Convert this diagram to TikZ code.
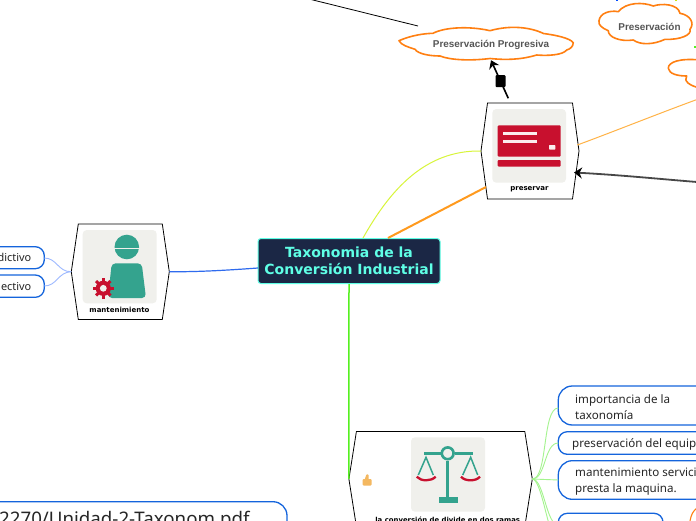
\documentclass[tikz,border=0pt]{standalone}
\usepackage{fontspec}
\usetikzlibrary{arrows.meta,calc}
\setmainfont{Noto Sans}
\newfontfamily\boldface{DejaVu Sans}[BoldFont=DejaVu Sans Bold]
\newfontfamily\cloudface{Liberation Sans}
\definecolor{inkmain}{HTML}{1B2745}
\definecolor{cyanmain}{HTML}{5FFFE6}
\definecolor{tealicon}{HTML}{34A38E}
\definecolor{redicon}{HTML}{C8102E}
\definecolor{panelgray}{HTML}{F0F0EC}
\definecolor{leafblue}{HTML}{1464DC}
\definecolor{cloudorange}{HTML}{FF7F11}
\definecolor{cloudtext}{HTML}{555555}
\definecolor{stemgreen}{HTML}{55F020}
\definecolor{softgreen}{HTML}{A4F48E}
\definecolor{softblue}{HTML}{9DB9FF}
\definecolor{limelink}{HTML}{D8F53A}
\definecolor{orangelink}{HTML}{FF9A1E}
\definecolor{orangethin}{HTML}{FFB347}
\definecolor{bluelink}{HTML}{2F6BEE}
\definecolor{thumbcolor}{HTML}{F4B860}
\tikzset{
  hexspan/.style={inner sep=0pt,outer sep=0pt,minimum width=#1},
  hexline/.style={draw=black,line width=0.8pt,fill=white,line join=miter},
  panel/.style={fill=panelgray,rounded corners=4pt},
  hexlabel/.style={font=\boldface\bfseries\fontsize{7}{9}\selectfont,inner sep=0pt},
  leaf/.style={draw=leafblue,line width=1.3pt,fill=white},
  leaftext/.style={font=\fontsize{11.6}{16}\selectfont,inner sep=0pt,align=left,text=black!85},
  cloudline/.style={draw=cloudorange,line width=1.6pt,fill=white,line join=round},
  cloudlabel/.style={font=\cloudface\bfseries\fontsize{9.9}{12}\selectfont,text=cloudtext,inner sep=0pt},
  softgreenlink/.style={draw=softgreen,line width=0.9pt},
  softbluelink/.style={draw=softblue,line width=0.9pt},
  icontooth/.style={fill=redicon,minimum width=3.4pt,minimum height=3pt,inner sep=0pt}
}
\newcommand{\hexa}[6]{% name cx cy width height inset
  \node[hexspan=#4pt,minimum height=#5pt] (#1) at (#2,#3) {};
  \draw[hexline] ($(#1.north west)+(#6pt,0)$) -- ($(#1.north east)+(-#6pt,0)$) -- (#1.east)
     -- ($(#1.south east)+(-#6pt,0)$) -- ($(#1.south west)+(#6pt,0)$) -- (#1.west) -- cycle;
}
\begin{document}
\begin{tikzpicture}[x=1pt,y=-1pt]
\useasboundingbox (0,0) rectangle (696,520);
\clip (0,0) rectangle (696,520);
\fill[white] (0,0) rectangle (696,520);

% connector free ends
\coordinate (topline a) at (309,-1);
\coordinate (topline b) at (418,26);
\coordinate (rightA) at (697,99.5);
\coordinate (rightB) at (697,182);
\coordinate (arrowIn) at (574,172.5);
\coordinate (arrowOut) at (508.3,98.3);
\coordinate (orangeIn) at (486,187);
\coordinate (rootYellow) at (363,238);
\coordinate (rootOrange) at (388,238);
\coordinate (rootBlue) at (258,268);

% connectors behind the nodes
\draw[black,line width=0.8pt] (topline a) -- (topline b);

% clouds
\draw[cloudline] (399,40.7) .. controls (412,35) and (425,33.5) .. (433,33.3)
  .. controls (445,27) and (470,26) .. (490,30.7)
  .. controls (510,25) and (530,27) .. (543.5,33.5)
  .. controls (555,35) and (570,38) .. (573.3,42.7)
  .. controls (573,47) and (570,49) .. (566.7,50)
  .. controls (563,55) and (548,56) .. (536.7,55)
  .. controls (520,60) and (505,60) .. (490,58.5)
  .. controls (470,61) and (450,60) .. (440,56)
  .. controls (430,56) and (418,54) .. (415,49.3)
  .. controls (408,47) and (401,45) .. (399,40.7) -- cycle;
\node[cloudlabel,minimum width=174pt,minimum height=31pt] (cloudA) at (491,44.5) {Preservación Progresiva};

\draw[cloudline] (599,20.7) .. controls (600,13) and (610,10) .. (618.3,11.7)
  .. controls (626,2) and (643,2) .. (653.3,6)
  .. controls (662,3) and (678,4) .. (680,13.3)
  .. controls (690,15) and (695,23) .. (690,29.3)
  .. controls (692,35) and (680,40) .. (665,39.3)
  .. controls (653,45) and (640,45) .. (633.3,40)
  .. controls (620,42) and (608,37) .. (608.3,30.7)
  .. controls (602,28) and (598,25) .. (599,20.7) -- cycle;
\node[cloudlabel] (cloudB) at (649.5,26.7) {Preservación};

\draw[cloudline] (700,60) .. controls (680,58) and (668,62) .. (668.3,68.3)
  .. controls (669,74) and (678,76) .. (686.7,76)
  .. controls (683,81) and (690,86) .. (700,88) -- cycle;
\node[inner sep=0pt,minimum size=1pt] (cloudC) at (697,72) {};

% edge specks at the border
\draw[blue!70!cyan,line width=1.4pt] (617,-1) -- (617,1);
\draw[yellow!80!green,line width=1.4pt] (676,-1) -- (676,1);
\draw[stemgreen,line width=1.2pt] (695,46) -- (695,48);

% nodes
\hexa{preservar}{530}{151}{98}{96}{6.5}
\hexa{mantenimiento}{120.3}{271.7}{98}{95.5}{7}
\hexa{conversion}{440.6}{479}{183.4}{95}{7.5}

% root
\node[draw=cyanmain,line width=1pt,fill=inkmain,rounded corners=3pt,minimum width=182pt,minimum height=45pt,
      inner sep=0pt,align=center,text=cyanmain,
      font=\boldface\bfseries\fontsize{14}{17}\selectfont] (root) at (349,261) {Taxonomia de la\\Conversión Industrial};

% root connectors
\draw[draw=limelink,line width=1pt] (rootYellow) .. controls (390,190) and (425,150) .. (preservar.west);
\draw[draw=orangelink,line width=2pt] (rootOrange) -- (orangeIn);
\draw[draw=stemgreen,line width=1.5pt] (root.south) -- (conversion.west);
\draw[draw=bluelink,line width=1.2pt] (mantenimiento.east) .. controls (200,272) and (230,270) .. (rootBlue);
\coordinate (rightStart) at (577.3,145);
\draw[draw=orangethin,line width=1pt] (rightStart) .. controls (610,133) and (660,113) .. (rightA);
\draw[draw=black!72,line width=1.8pt,-{Stealth[length=8pt,width=11pt,black]}] (rightB) .. controls (660,179) and (620,175) .. (arrowIn);
\draw[black,line width=1.6pt,-{Stealth[length=8pt,width=11pt]}] (arrowOut) -- node[pos=0.45,fill=black,rounded corners=1pt,minimum width=10pt,minimum height=12pt,inner sep=0pt] (arrowmark) {} (cloudA.south);

% preservar icon
\fill[panel] (492.3,109) rectangle (566,182.7);
\fill[redicon,rounded corners=1pt] (497.7,125.3) rectangle (560.7,156.7);
\fill[redicon,rounded corners=1pt] (497.7,160) rectangle (560.7,166.7);
\fill[white!92!redicon] (502.7,132.2) rectangle (536.7,134.6);
\fill[white!92!redicon] (502.7,140.2) rectangle (536.7,142.6);
\fill[white!92!redicon,rounded corners=.7pt] (549,145) rectangle (555.3,149.7);
\node[hexlabel] (preservarlabel) at (529.5,189.5) {preservar};

% mantenimiento icon
\fill[panel] (82.7,230) rectangle (156.7,303.3);
\fill[tealicon] (126.8,247) circle (12.3pt);
\draw[panelgray,line width=1.4pt] (112,248.6) -- (141,248.6);
\fill[tealicon,rounded corners=4pt] (111.7,263.3) -- (141.7,263.3) -- (146,298) -- (108,298) -- cycle;
\foreach \a in {0,45,...,315}{\node[icontooth,rotate=\a] at ($(103.3,288.3)+(\a:8.5pt)$) {};}
\fill[redicon] (103.3,288.3) circle (7.6pt);
\fill[panelgray] (103.3,288.3) circle (3.4pt);
\node[hexlabel] (mantenimientolabel) at (119.5,310.3) {mantenimiento};

% conversion icon
\fill[panel] (411,437.3) rectangle (485,511.7);
\draw[tealicon,line width=2.5pt] (424,453.3) -- (441,453.3) (454.5,453.3) -- (472.7,453.3);
\draw[tealicon,line width=2.6pt] (447.7,453.3) circle (5.9pt);
\draw[tealicon,line width=2.8pt] (447.7,460.5) -- (447.7,497);
\fill[tealicon] (438.7,496.7) rectangle (457.7,502.7);
\draw[tealicon,line width=1.5pt] (418.3,475) -- (426,457.3) -- (433.3,475);
\draw[tealicon,line width=1.5pt] (462.7,475) -- (470.7,457.3) -- (477.7,475);
\draw[redicon,line width=2.3pt] (416.7,476.7) .. controls (421,481.5) and (431,481.5) .. (435.7,476.7);
\draw[redicon,line width=2.3pt] (461,476.7) .. controls (465,481.5) and (476,481.5) .. (480,476.7);
\fill[thumbcolor,rounded corners=1pt] (362.7,479) rectangle (371.7,485.5);
\fill[thumbcolor,rounded corners=.6pt] (364.5,480) -- (366.5,474.3) -- (368.6,474.6) -- (368.6,480) -- cycle;
\node[hexlabel,font=\boldface\bfseries\fontsize{6.9}{8}\selectfont,anchor=base] (conversionlabel) at (447.7,522) {la conversión de divide en dos ramas};

% leaves left
\draw[leaf,rounded corners=9pt] (-30,246.7) rectangle (44.3,268.7);
\draw[leaf,rounded corners=9pt] (-30,275) rectangle (44.3,297.3);
\node[leaftext,anchor=east,font=\fontsize{10.9}{16}\selectfont] (predictive) at (31.5,257.7) {dictivo};
\node[leaftext,anchor=east,font=\fontsize{10.9}{16}\selectfont] (corrective) at (31.5,286.7) {ectivo};
\coordinate (pE) at (44.3,258);
\coordinate (cE) at (44.3,286);
\draw[softbluelink] (pE) .. controls (57,258) and (58,272) .. (mantenimiento.west);
\draw[softbluelink] (cE) .. controls (57,286) and (58,272) .. (mantenimiento.west);

% leaves right
\draw[leaf,rounded corners=14pt] (558.3,386) rectangle (730,425);
\draw[leaf,rounded corners=9pt] (558.3,431.7) rectangle (730,454.3);
\draw[leaf,rounded corners=14pt] (558.3,460.7) rectangle (730,499.3);
\draw[leaf,rounded corners=9pt] (558.3,513.3) rectangle (663,540);
\node[leaftext,anchor=west] (importancia) at (575,407.5) {importancia de la\\taxonomía};
\node[leaftext,anchor=west] (preservacion) at (572,444.5) {preservación del equip};
\node[leaftext,anchor=west] (servicio) at (575,482) {mantenimiento servici\\presta la maquina.};
\coordinate (leafA) at (558.3,408);
\coordinate (leafB) at (558.3,443);
\coordinate (leafC) at (558.3,480);
\coordinate (leafD) at (558.3,525);
\draw[softgreenlink] (conversion.east) .. controls (548,479) and (542,408) .. (leafA);
\draw[softgreenlink] (conversion.east) .. controls (546,479) and (544,443) .. (leafB);
\draw[softgreenlink] (conversion.east) -- (leafC);
\draw[softgreenlink] (conversion.east) .. controls (544,479) and (546,525) .. (leafD);
\draw[softgreenlink] (conversion.east) .. controls (541,479) and (548,530) .. (552,530);

% orange cloud just visible in the bottom right corner
\draw[cloudline,line width=1.1pt] (697,508) .. controls (693,511) and (691,515) .. (690,521);

% bottom-left link box
\draw[leaf,rounded corners=14pt] (-30,501.7) rectangle (287,560);
\node[leaftext,anchor=base west,font=\fontsize{18.7}{20}\selectfont] (pdflink) at (-1,525.5) {2270/Unidad-2-Taxonom.pdf};
\end{tikzpicture}
\end{document}
